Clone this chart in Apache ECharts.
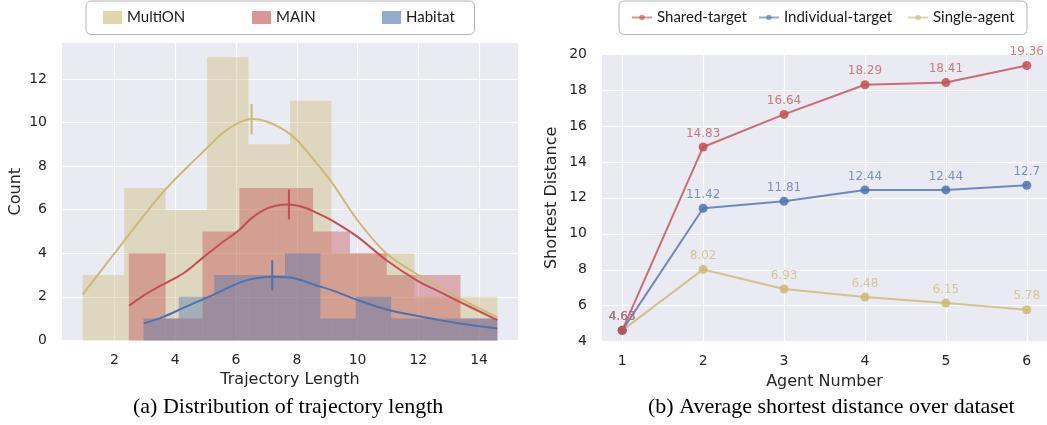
<!DOCTYPE html>
<html><head><meta charset="utf-8">
<script src="https://cdn.jsdelivr.net/npm/echarts@6/dist/echarts.min.js"></script>
<style>html,body{margin:0;padding:0;background:#fff}#c{width:1047px;height:425px}</style>
</head><body><div id="c"></div>
<script>
// ---------- (a) histogram data ----------
const histNames = ['MultiON', 'MAIN', 'Habitat'];
const multionEdges = [0.95, 2.315, 3.68, 5.045, 6.41, 7.775, 9.14, 10.505, 11.87, 13.235, 14.6];
const multionCounts = [3, 7, 6, 13, 9, 11, 4, 4, 2, 2];
const mainEdges = [2.47, 3.683, 4.896, 6.109, 7.322, 8.535, 9.748, 10.961, 12.174, 13.387, 14.6];
const mainCounts = [4, 1, 5, 7, 7, 5, 4, 3, 3, 1];
const habitatEdges = [2.95, 4.115, 5.28, 6.445, 7.61, 8.775, 9.94, 11.105, 12.27, 13.435, 14.6];
const habitatCounts = [1, 2, 3, 3, 4, 1, 2, 1, 1, 1];

// density curves [x, y]
const multionKde = [[0.95,2.11],[2.0,4.0],[3.0,5.8],[3.69,6.95],[4.5,8.1],[5.06,8.85],[5.5,9.45],[6.0,9.93],[6.51,10.16],[7.0,10.05],[7.62,9.63],[8.0,9.2],[8.44,8.49],[9.15,7.25],[10.0,5.51],[10.95,3.99],[12.0,3.0],[12.7,2.46],[13.36,1.93],[14.6,1.06]];
const mainKde = [[2.48,1.59],[3.0,2.1],[3.5,2.5],[3.85,2.75],[4.34,3.15],[4.91,3.8],[5.5,4.45],[6.09,5.05],[6.5,5.6],[6.86,5.95],[7.3,6.18],[7.74,6.24],[8.2,6.12],[8.6,5.89],[9.15,5.51],[10.0,4.75],[10.95,3.68],[11.99,2.72],[12.7,2.23],[13.36,1.77],[14.6,0.93]];
const habitatKde = [[2.96,0.78],[3.6,1.08],[4.34,1.54],[5.3,2.12],[6.09,2.64],[6.6,2.84],[7.18,2.92],[7.6,2.9],[7.95,2.84],[8.6,2.54],[9.15,2.31],[10.0,1.85],[10.95,1.42],[11.99,1.12],[12.7,0.93],[13.36,0.78],[14.6,0.55]];
// peak marks [x, yLow, yHigh]
const multionMark = [6.51, 9.45, 10.85];
const mainMark = [7.74, 5.55, 6.93];
const habitatMark = [7.19, 2.3, 3.68];

// ---------- (b) line chart data ----------
const agentNumbers = [1, 2, 3, 4, 5, 6];
const lineNames = ['Shared-target', 'Individual-target', 'Single-agent'];
const sharedTarget = [4.63, 14.83, 16.64, 18.29, 18.41, 19.36];
const individualTarget = [4.63, 11.42, 11.81, 12.44, 12.44, 12.7];
const singleAgent = [4.63, 8.02, 6.93, 6.48, 6.15, 5.78];

// ---------- styling ----------
const YEL = '#CCB974', RED = '#C44E52', BLU = '#4C72B0';
const TXT = '#262626';
const tickFont = {color: TXT, fontSize: 14, fontFamily: 'DejaVu Sans'};
const nameFont = {color: TXT, fontSize: 16, fontFamily: 'DejaVu Sans'};
const grid = {color: '#ffffff', width: 1.2};
const legendFont = {color: '#1a1a1a', fontSize: 15, fontFamily: 'Lato'};

function binData(edges, counts) {
  return counts.map((c, i) => [edges[i], edges[i + 1], c]);
}
function histSeries(name, edges, counts, color) {
  return {
    type: 'custom', name: name, xAxisIndex: 0, yAxisIndex: 0, z: 2,
    itemStyle: {color: color},
    encode: {x: [0, 1], y: 2},
    data: binData(edges, counts),
    renderItem: function (params, api) {
      const p0 = api.coord([api.value(0), api.value(2)]);
      const p1 = api.coord([api.value(1), 0]);
      return {type: 'rect', shape: {x: p0[0], y: p0[1], width: p1[0] - p0[0], height: p1[1] - p0[1]},
              style: {fill: color, opacity: 0.4}};
    }
  };
}
function kdeSeries(name, pts, color) {
  return {type: 'line', name: name, xAxisIndex: 0, yAxisIndex: 0, z: 4, data: pts, smooth: 0.35,
          symbol: 'none', lineStyle: {color: color, width: 2}, silent: true};
}
function markSeries(name, m, color) {
  return {type: 'line', name: name, xAxisIndex: 0, yAxisIndex: 0, z: 4,
          data: [[m[0], m[1]], [m[0], m[2]]], symbol: 'none', lineStyle: {color: color, width: 2}, silent: true};
}
function lineSeries(name, vals, color, labelColor, z) {
  return {
    type: 'line', name: name, xAxisIndex: 1, yAxisIndex: 1, z: z,
    data: agentNumbers.map((a, i) => [a, vals[i]]),
    symbol: 'circle', symbolSize: 9,
    lineStyle: {color: color, width: 2, opacity: 0.8},
    itemStyle: {color: color, opacity: 0.85},
    label: {show: true, position: 'top', distance: 3, color: labelColor,
            fontSize: 12, fontFamily: 'DejaVu Sans'}
  };
}
// one legend component per entry so every entry sits where it does in the picture
function histLegend(name, left, color) {
  return {left: left, top: 10, padding: 0, itemWidth: 19, itemHeight: 13, icon: 'rect',
          textStyle: legendFont, data: [{name: name, itemStyle: {color: color, opacity: 0.6}}]};
}
function lineLegend(name, left) {
  return {left: left, top: 10, padding: 0, itemWidth: 20, itemHeight: 7,
          textStyle: legendFont, itemStyle: {opacity: 0.6}, lineStyle: {opacity: 0.6}, data: [name]};
}
const intLabel = v => (Math.abs(v - Math.round(v)) < 1e-6 ? String(Math.round(v)) : '');

const chart = echarts.init(document.getElementById('c'), null, {renderer: 'canvas'});
chart.setOption({
  animation: false,
  backgroundColor: '#ffffff',
  grid: [
    {left: 62, top: 43, width: 456, height: 297.4, show: true, backgroundColor: '#EAEAF2', borderWidth: 0},
    {left: 602, top: 54, width: 445, height: 287.7, show: true, backgroundColor: '#EAEAF2', borderWidth: 0}
  ],
  xAxis: [
    {type: 'value', gridIndex: 0, min: 0.27, max: 15.28, splitNumber: 7,
     name: 'Trajectory Length', nameLocation: 'middle', nameGap: 31, nameTextStyle: nameFont,
     axisLine: {show: false}, axisTick: {show: false},
     axisLabel: Object.assign({margin: 13, showMinLabel: false, showMaxLabel: false, formatter: intLabel}, tickFont),
     splitLine: {show: true, showMinLine: false, showMaxLine: false, lineStyle: grid}},
    {type: 'value', gridIndex: 1, min: 0.75, max: 6.25, splitNumber: 5,
     name: 'Agent Number', nameLocation: 'middle', nameGap: 32, nameTextStyle: nameFont,
     axisLine: {show: false}, axisTick: {show: false},
     axisLabel: Object.assign({margin: 13, showMinLabel: false, showMaxLabel: false, formatter: intLabel}, tickFont),
     splitLine: {show: true, showMinLine: false, showMaxLine: false, lineStyle: grid}}
  ],
  yAxis: [
    {type: 'value', gridIndex: 0, min: 0, max: 13.65, interval: 2,
     name: 'Count', nameLocation: 'middle', nameGap: 38, nameTextStyle: nameFont,
     axisLine: {show: false}, axisTick: {show: false},
     axisLabel: Object.assign({margin: 15, showMaxLabel: false, formatter: intLabel}, tickFont),
     splitLine: {show: true, showMaxLine: false, lineStyle: grid}},
    {type: 'value', gridIndex: 1, min: 4, max: 20, interval: 2,
     name: 'Shortest Distance', nameLocation: 'middle', nameGap: 42, nameTextStyle: nameFont,
     axisLine: {show: false}, axisTick: {show: false},
     axisLabel: Object.assign({margin: 15}, tickFont),
     splitLine: {show: true, lineStyle: grid}}
  ],
  legend: [
    histLegend('MultiON', 103, YEL),
    histLegend('MAIN', 252, RED),
    histLegend('Habitat', 382, BLU),
    lineLegend(lineNames[0], 631),
    lineLegend(lineNames[1], 758),
    lineLegend(lineNames[2], 907)
  ],
  graphic: [
    {type: 'rect', left: 85.5, top: 0.5, z: -1, silent: true,
     shape: {width: 388.5, height: 33.5, r: 5}, style: {fill: '#ffffff', stroke: '#b3b3b3', lineWidth: 1}},
    {type: 'rect', left: 618.5, top: 0.5, z: -1, silent: true,
     shape: {width: 408, height: 33.5, r: 5}, style: {fill: '#ffffff', stroke: '#b3b3b3', lineWidth: 1}},
    {type: 'text', left: 133, top: 396, style: {text: '(a) Distribution of trajectory length',
      font: '22px "Liberation Serif"', fill: '#000'}},
    {type: 'text', left: 648, top: 396, style: {text: '(b) Average shortest distance over dataset',
      font: '22px "Liberation Serif"', fill: '#000'}}
  ],
  series: [
    histSeries(histNames[0], multionEdges, multionCounts, YEL),
    histSeries(histNames[1], mainEdges, mainCounts, RED),
    histSeries(histNames[2], habitatEdges, habitatCounts, BLU),
    kdeSeries('MultiON density', multionKde, YEL),
    kdeSeries('MAIN density', mainKde, RED),
    kdeSeries('Habitat density', habitatKde, BLU),
    markSeries('MultiON peak', multionMark, YEL),
    markSeries('MAIN peak', mainMark, RED),
    markSeries('Habitat peak', habitatMark, BLU),
    lineSeries(lineNames[2], singleAgent, YEL, '#D0C087', 3),
    lineSeries(lineNames[1], individualTarget, BLU, '#6484BA', 4),
    lineSeries(lineNames[0], sharedTarget, RED, '#CA656A', 5)
  ]
});
</script>
</body></html>
